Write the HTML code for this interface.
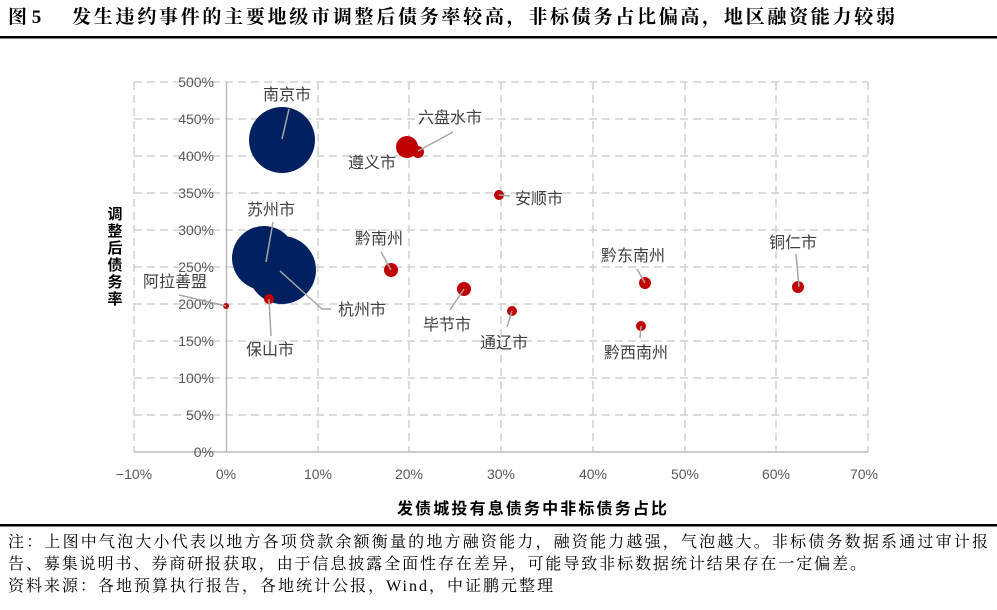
<!DOCTYPE html>
<html><head><meta charset="utf-8"><style>
body{margin:0;background:#fff;width:997px;height:605px;overflow:hidden;font-family:"Liberation Serif","Noto Serif CJK SC",serif}
</style></head><body>
<svg width="997" height="605" xmlns="http://www.w3.org/2000/svg">
<text x="8" y="23" font-family="Liberation Serif,'Noto Serif CJK SC',serif" font-weight="bold" font-size="19" fill="#000">图 5</text>
<text x="72" y="23" font-family="Liberation Serif,'Noto Serif CJK SC',serif" font-weight="bold" font-size="19" fill="#000" textLength="823" lengthAdjust="spacing">发生违约事件的主要地级市调整后债务率较高，非标债务占比偏高，地区融资能力较弱</text>
<rect x="0" y="36" width="997" height="2.5" fill="#000"/>
<g stroke="#d0d0d0" stroke-width="1.5" stroke-dasharray="8,5" fill="none">
<line x1="134" y1="82" x2="868" y2="82"/><line x1="134" y1="119" x2="868" y2="119"/><line x1="134" y1="156" x2="868" y2="156"/><line x1="134" y1="193" x2="868" y2="193"/><line x1="134" y1="230" x2="868" y2="230"/><line x1="134" y1="267" x2="868" y2="267"/><line x1="134" y1="304" x2="868" y2="304"/><line x1="134" y1="341" x2="868" y2="341"/><line x1="134" y1="378" x2="868" y2="378"/><line x1="134" y1="415" x2="868" y2="415"/>
<line x1="134" y1="82" x2="134" y2="452"/><line x1="318" y1="82" x2="318" y2="452"/><line x1="409" y1="82" x2="409" y2="452"/><line x1="501" y1="82" x2="501" y2="452"/><line x1="593" y1="82" x2="593" y2="452"/><line x1="685" y1="82" x2="685" y2="452"/><line x1="776" y1="82" x2="776" y2="452"/><line x1="868" y1="82" x2="868" y2="452"/>
</g>
<line x1="134" y1="452" x2="868" y2="452" stroke="#bbb" stroke-width="1.5"/>
<line x1="226.5" y1="82" x2="226.5" y2="452" stroke="#bbb" stroke-width="1.5"/>
<g font-family="Liberation Sans,sans-serif" font-size="14" fill="#595959" text-anchor="end">
<text x="214" y="87">500%</text><text x="214" y="124">450%</text><text x="214" y="161">400%</text><text x="214" y="198">350%</text><text x="214" y="235">300%</text><text x="214" y="272">250%</text><text x="214" y="309">200%</text><text x="214" y="346">150%</text><text x="214" y="383">100%</text><text x="214" y="420">50%</text><text x="214" y="457">0%</text>
</g>
<g font-family="Liberation Sans,sans-serif" font-size="14" fill="#595959" text-anchor="middle">
<text x="134" y="479">−10%</text><text x="226" y="479">0%</text><text x="318" y="479">10%</text><text x="409" y="479">20%</text><text x="501" y="479">30%</text><text x="593" y="479">40%</text><text x="685" y="479">50%</text><text x="776" y="479">60%</text><text x="864" y="479">70%</text>
</g>
<g fill="#002060">
<circle cx="282" cy="140" r="33"/><circle cx="264" cy="258" r="32"/><circle cx="282" cy="270" r="34"/>
</g>
<g fill="#c00000">
<circle cx="269" cy="299" r="5"/><circle cx="226" cy="306" r="3"/><circle cx="407" cy="147" r="11"/><circle cx="418" cy="152" r="6"/><circle cx="499" cy="195" r="5"/><circle cx="391" cy="270" r="7"/><circle cx="464" cy="289" r="7"/><circle cx="512" cy="311" r="5"/><circle cx="645" cy="283" r="6"/><circle cx="641" cy="326" r="5"/><circle cx="798" cy="287" r="6"/>
</g>
<g stroke="#a6a6a6" stroke-width="1.5" fill="none">
<line x1="289" y1="109" x2="282" y2="139"/><line x1="273" y1="222" x2="266" y2="262"/><polyline points="280,271 322,309 331,309"/><line x1="269" y1="299" x2="271" y2="336"/><line x1="179" y1="295" x2="226" y2="306"/><line x1="453" y1="132" x2="418" y2="151"/><line x1="381" y1="252" x2="391" y2="270"/><line x1="464" y1="289" x2="450" y2="310"/><line x1="512" y1="311" x2="507" y2="327"/><line x1="499" y1="195" x2="510" y2="196"/><line x1="637" y1="269" x2="645" y2="283"/><line x1="641" y1="326" x2="640" y2="338"/><line x1="796" y1="254" x2="799" y2="287"/>
</g>
<g font-family="Liberation Sans,'Noto Sans CJK SC',sans-serif" font-size="16" fill="#404040">
<text x="263" y="100">南京市</text><text x="418" y="123">六盘水市</text><text x="348" y="168">遵义市</text><text x="515" y="204">安顺市</text><text x="247" y="215">苏州市</text><text x="355" y="244">黔南州</text><text x="143" y="287">阿拉善盟</text><text x="338" y="315">杭州市</text><text x="246" y="355">保山市</text><text x="423" y="330">毕节市</text><text x="480" y="348">通辽市</text><text x="601" y="261">黔东南州</text><text x="604" y="358">黔西南州</text><text x="769" y="248">铜仁市</text>
</g>
<g font-family="Liberation Serif,'Noto Sans CJK SC',sans-serif" font-weight="bold" font-size="15" fill="#000" text-anchor="middle">
<text x="115" y="219">调</text><text x="115" y="236">整</text><text x="115" y="253">后</text><text x="115" y="270">债</text><text x="115" y="287">务</text><text x="115" y="304">率</text>
</g>
<text x="397" y="514" font-family="Liberation Serif,'Noto Sans CJK SC',sans-serif" font-weight="bold" font-size="16" fill="#000" textLength="270" lengthAdjust="spacing">发债城投有息债务中非标债务占比</text>
<rect x="0" y="524" width="997" height="2.5" fill="#000"/>
<g font-family="Liberation Serif,'Noto Serif CJK SC',serif" font-size="16" fill="#000">
<text x="8" y="547" textLength="980" lengthAdjust="spacing">注：上图中气泡大小代表以地方各项贷款余额衡量的地方融资能力，融资能力越强，气泡越大。非标债务数据系通过审计报</text>
<text x="8" y="569" textLength="858" lengthAdjust="spacing">告、募集说明书、券商研报获取，由于信息披露全面性存在差异，可能导致非标数据统计结果存在一定偏差。</text>
<text x="8" y="591" textLength="545" lengthAdjust="spacing">资料来源：各地预算执行报告，各地统计公报，Wind，中证鹏元整理</text>
</g>
</svg>
</body></html>
